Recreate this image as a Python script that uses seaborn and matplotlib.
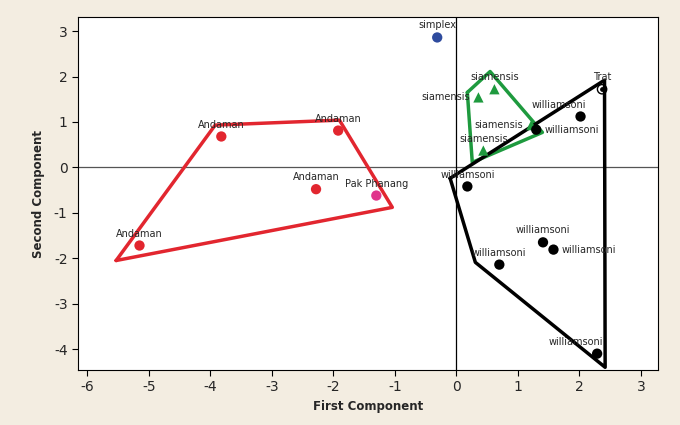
import numpy as np
import pandas as pd
import matplotlib
matplotlib.use('Agg')
import matplotlib.pyplot as plt
import seaborn as sns

# Point scores (first component, second component)
groups = ['simplex',
          'Andaman', 'Andaman', 'Andaman', 'Andaman',
          'Pak Phanang',
          'siamensis', 'siamensis', 'siamensis', 'siamensis',
          'Trat',
          'williamsoni', 'williamsoni', 'williamsoni', 'williamsoni',
          'williamsoni', 'williamsoni', 'williamsoni']
pc1 = [-0.31,
       -3.82, -1.92, -2.28, -5.15,
       -1.30,
       0.36, 0.62, 0.44, 1.22,
       2.37,
       2.02, 1.30, 0.18, 1.41, 1.58, 0.70, 2.29]
pc2 = [2.86,
       0.68, 0.81, -0.48, -1.72,
       -0.62,
       1.54, 1.72, 0.37, 0.93,
       1.72,
       1.12, 0.83, -0.42, -1.65, -1.81, -2.14, -4.10]
# where each label sits relative to its marker
label_pos = ['above',
             'above', 'above', 'above', 'above',
             'above',
             'left', 'above', 'above', 'left',
             'above',
             'aboveleft', 'right', 'above', 'above', 'right', 'above', 'aboveleft']

# Hull outlines
red_hull_x = [-5.53, -3.92, -1.90, -1.04, -5.53]
red_hull_y = [-2.05, 0.93, 1.04, -0.88, -2.05]
green_hull_x = [0.18, 0.55, 1.40, 0.26, 0.18]
green_hull_y = [1.65, 2.11, 0.77, 0.11, 1.65]
black_hull_x = [-0.10, 2.41, 2.42, 0.31, -0.10]
black_hull_y = [-0.24, 1.92, -4.40, -2.09, -0.24]

colors = {'simplex': '#2e4b9e', 'Andaman': '#e2262f', 'Pak Phanang': '#e0358c',
          'siamensis': '#1e9a3e', 'Trat': 'black', 'williamsoni': 'black'}
markers = {'simplex': 'o', 'Andaman': 'o', 'Pak Phanang': 'o',
           'siamensis': '^', 'Trat': 'o', 'williamsoni': 'o'}

df = pd.DataFrame({'group': groups, 'pc1': pc1, 'pc2': pc2, 'pos': label_pos})

sns.set_style('white')
plt.rcParams['font.family'] = ['DejaVu Sans']
plt.rcParams['axes.unicode_minus'] = False

fig = plt.figure(figsize=(6.8, 4.25), dpi=100, facecolor='#f3ede1')
ax = fig.add_axes([0.1147, 0.1294, 0.853, 0.8306])
ax.set_facecolor('white')

ax.axhline(0, color='#555555', linewidth=0.9, zorder=1)
ax.axvline(0, color='black', linewidth=0.9, zorder=1)

ax.plot(red_hull_x, red_hull_y, color='#e2262f', linewidth=2.5, zorder=2)
ax.plot(green_hull_x, green_hull_y, color='#1e9a3e', linewidth=2.5, zorder=2)
ax.plot(black_hull_x, black_hull_y, color='black', linewidth=2.5, zorder=2)

filled = df[df['group'] != 'Trat']
sns.scatterplot(data=filled, x='pc1', y='pc2', hue='group', style='group',
                palette=colors, markers=markers, s=55, edgecolor='none',
                legend=False, ax=ax, zorder=3)
trat = df[df['group'] == 'Trat']
ax.scatter(trat['pc1'], trat['pc2'], s=45, facecolors='none', edgecolors='black',
           linewidths=1.0, zorder=3)
ax.scatter(trat['pc1'], trat['pc2'], s=6, color='black', zorder=3)

for _, r in df.iterrows():
    if r['pos'] == 'above':
        ax.annotate(r['group'], (r['pc1'], r['pc2']), xytext=(0, 5),
                    textcoords='offset points', ha='center', va='bottom', fontsize=7)
    elif r['pos'] == 'left':
        ax.annotate(r['group'], (r['pc1'], r['pc2']), xytext=(-6, 0),
                    textcoords='offset points', ha='right', va='center', fontsize=7)
    elif r['pos'] == 'right':
        ax.annotate(r['group'], (r['pc1'], r['pc2']), xytext=(6, 0),
                    textcoords='offset points', ha='left', va='center', fontsize=7)
    else:
        ax.annotate(r['group'], (r['pc1'], r['pc2']), xytext=(4, 5),
                    textcoords='offset points', ha='right', va='bottom', fontsize=7)

ax.set_xlim(-6.15, 3.28)
ax.set_ylim(-4.46, 3.31)
ax.set_xticks(range(-6, 4))
ax.set_yticks(range(-4, 4))
ax.tick_params(axis='both', direction='out', length=4, width=0.8, labelsize=10,
               left=True, bottom=True, color='black')
for sp in ax.spines.values():
    sp.set_color('black')
    sp.set_linewidth(0.8)

ax.set_xlabel('First Component', fontsize=8.5, fontweight='bold', labelpad=4)
ax.set_ylabel('Second Component', fontsize=8.5, fontweight='bold', labelpad=6)

fig.savefig('out.png', dpi=100, facecolor=fig.get_facecolor())
